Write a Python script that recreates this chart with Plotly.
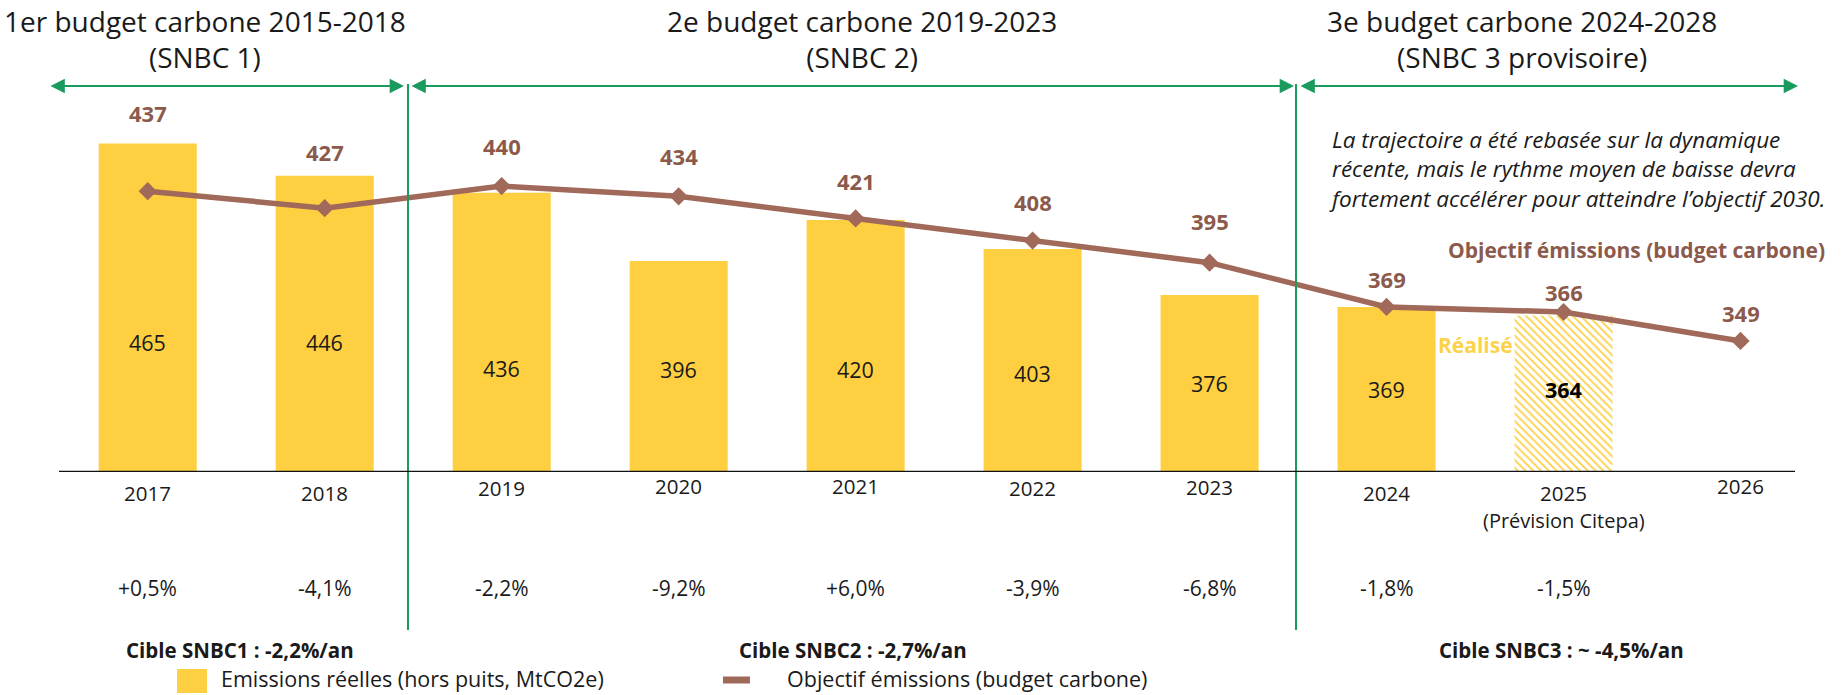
import plotly.graph_objects as go

# ---------------- data ----------------
years = ["2017", "2018", "2019", "2020", "2021", "2022", "2023", "2024", "2025", "2026"]
emis_years = ["2017", "2018", "2019", "2020", "2021", "2022", "2023", "2024"]
emissions_reelles = [465, 446, 436, 396, 420, 403, 376, 369]
prev_years = ["2025"]
emissions_prevision = [364]
objectif = [437, 427, 440, 434, 421, 408, 395, 369, 366, 349]
variations = ["+0,5%", "-4,1%", "-2,2%", "-9,2%", "+6,0%", "-3,9%", "-6,8%", "-1,8%", "-1,5%"]
headers = [("1er budget carbone 2015-2018", "(SNBC 1)"),
           ("2e budget carbone 2019-2023", "(SNBC 2)"),
           ("3e budget carbone 2024-2028", "(SNBC 3 provisoire)")]
cibles = ["Cible SNBC1 : -2,2%/an", "Cible SNBC2 : -2,7%/an", "Cible SNBC3 : ~ -4,5%/an"]
note = ["La trajectoire a été rebasée sur la dynamique",
        "récente, mais le rythme moyen de baisse devra",
        "fortement accélérer pour atteindre l’objectif 2030."]

# ---------------- layout geometry ----------------
W, H = 1843, 695
L, R, T, B = 38, 14, 80, 223
PW, PH = W - L - R, H - T - B
YBASE = 272
PX_PER_UNIT = 1.702
YTOP = YBASE + PH / PX_PER_UNIT
XR = [-0.62, 9.5]
UNIT = PW / (XR[1] - XR[0])


def X(px):
    return (px - L) / PW


def Y(py):
    return (H - B - py) / PH


def DX(px):
    return XR[0] + (px - L) / UNIT


def DY(py):
    return YBASE + (H - B - py) / PX_PER_UNIT


def idx(yr):
    return years.index(yr)


YELLOW = "#FDCF41"
BROWN_LINE = "#A0695A"
BROWN_TXT = "#8C5A4B"
GREEN = "#1B9A5E"
TXT = "#1A1A1A"
FONT = "Open Sans"

fig = go.Figure()
fig.add_trace(go.Bar(x=[idx(y) for y in emis_years], y=emissions_reelles,
                     marker=dict(color=YELLOW, line=dict(width=0)),
                     width=0.554, name="Emissions réelles (hors puits, MtCO2e)"))
fig.add_trace(go.Bar(x=[idx(y) for y in prev_years], y=emissions_prevision, width=0.554,
                     marker=dict(color="white", line=dict(width=0),
                                 pattern=dict(shape="\\", fgcolor=YELLOW, bgcolor="white",
                                              size=5.5, solidity=0.32, fillmode="replace")),
                     name="Prévision"))
fig.add_trace(go.Scatter(x=[idx(y) for y in years], y=objectif, mode="lines+markers",
                         line=dict(color=BROWN_LINE, width=5.5),
                         marker=dict(symbol="diamond", size=14, color=BROWN_LINE),
                         name="Objectif émissions (budget carbone)", cliponaxis=False))

ann = []
shapes = []


def txt(x, y, text, size, color=TXT, xref="paper", yref="paper", xanchor="center", **kw):
    d = dict(x=x, y=y, xref=xref, yref=yref, text=text, showarrow=False,
             xanchor=xanchor, yanchor="middle", font=dict(family=FONT, size=size, color=color))
    d.update(kw)
    ann.append(d)


# bar value labels (pixel y positions)
bar_lab_py = [342, 342, 368, 369, 369, 373, 383, 389]
for yr, v, py in zip(emis_years, emissions_reelles, bar_lab_py):
    txt(idx(yr), Y(py), str(v), 21.5, xref="x")
for yr, v in zip(prev_years, emissions_prevision):
    txt(idx(yr), Y(389), "<b>%d</b>" % v, 21.5, color="#000000", xref="x")

# objective labels (offset above marker, in px)
obj_off = [78, 56, 40, 40, 37, 39, 42, 28, 20, 28]
for yr, v, off in zip(years, objectif, obj_off):
    txt(idx(yr), v, "<b>%d</b>" % v, 22, color=BROWN_TXT, xref="x", yref="y", yshift=off)

# year labels
year_py = [493, 493, 488, 486, 486, 488, 487, 493, 493, 486]
for yr, py in zip(years, year_py):
    txt(idx(yr), Y(py), yr, 20.5, xref="x")
txt(idx("2025"), Y(520), "(Prévision Citepa)", 20, xref="x")

# variation labels
for yr, t in zip(years, variations):
    txt(idx(yr), Y(588), t, 21, xref="x")

# headers (two-line blocks)
for (l1, l2), cx in zip(headers, [205, 862, 1522]):
    txt(X(cx), Y(39), l1 + "<br>" + l2, 28, align="center")

# cibles
for t, cx in zip(cibles, [240, 853, 1561]):
    txt(X(cx), Y(650), "<b>%s</b>" % t, 20.5)

# italic note (one multi-line block)
txt(X(1327), Y(169), "<i>" + "<br>".join(note) + "</i>", 22.5, xanchor="left", align="left")
txt(X(1827), Y(250), "<b>Objectif émissions (budget carbone)</b>", 21, color=BROWN_TXT, xanchor="right")
txt(X(1475), Y(345), "<b>Réalisé</b>", 21, color="#FDD24A")

# green double arrows
for a, b in [(49, 404), (410, 1294), (1299, 1798)]:
    ann.append(dict(x=DX(b), y=DY(86), ax=DX(a), ay=DY(86), xref="x", yref="y", axref="x", ayref="y",
                    text="", showarrow=True, arrowhead=2, arrowside="end+start", arrowsize=1.3,
                    arrowwidth=2.2, arrowcolor=GREEN))

# vertical separators
for xs in [408, 1296]:
    shapes.append(dict(type="line", xref="paper", yref="paper", x0=X(xs), x1=X(xs), y0=Y(84), y1=Y(630),
                       line=dict(color=GREEN, width=2)))

# baseline
shapes.append(dict(type="line", xref="paper", yref="y", x0=X(59), x1=X(1795), y0=YBASE, y1=YBASE,
                   line=dict(color="#111111", width=2.5)))

# legend
shapes.append(dict(type="rect", xref="paper", yref="paper", x0=X(177), x1=X(207), y0=Y(669), y1=Y(693),
                   fillcolor=YELLOW, line=dict(width=0)))
shapes.append(dict(type="line", xref="paper", yref="paper", x0=X(723), x1=X(750), y0=Y(680), y1=Y(680),
                   line=dict(color=BROWN_LINE, width=7)))
txt(X(219), Y(679), "Emissions réelles (hors puits, MtCO2e)", 21.5, xanchor="left")
txt(X(785), Y(679), "Objectif émissions (budget carbone)", 21.5, xanchor="left")

fig.update_layout(
    width=W, height=H,
    margin=dict(l=L, r=R, t=T, b=B, pad=0),
    paper_bgcolor="white", plot_bgcolor="white",
    showlegend=False, barmode="overlay",
    font=dict(family=FONT, color=TXT),
    xaxis=dict(range=XR, showticklabels=False, showgrid=False, zeroline=False, showline=False, ticks=""),
    yaxis=dict(range=[YBASE, YTOP], showticklabels=False, showgrid=False, zeroline=False,
               showline=False, ticks=""),
    annotations=ann, shapes=shapes,
)

fig.write_html("out.html", config={"displayModeBar": False},
               post_script="document.body.style.margin='0';document.body.style.overflow='hidden';")
